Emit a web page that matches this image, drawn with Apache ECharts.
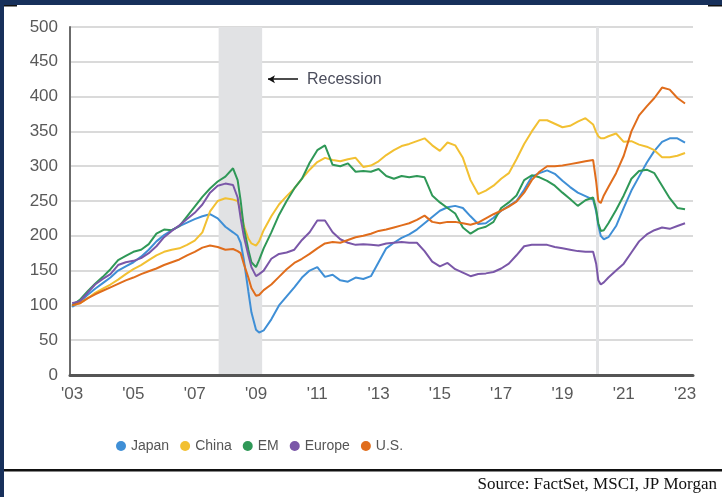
<!DOCTYPE html>
<html>
<head>
<meta charset="utf-8">
<script src="https://cdn.jsdelivr.net/npm/echarts@6/dist/echarts.min.js"></script>
<style>
html,body{margin:0;padding:0;background:#fff;}
#chart{width:722px;height:497px;}
</style>
</head>
<body>
<div id="chart"></div>
<script>
// Time points (decimal years)
const dates = [
  2003, 2003.25, 2003.5, 2003.75,
  2004, 2004.25, 2004.5, 2004.75,
  2005, 2005.25, 2005.5, 2005.75,
  2006, 2006.25, 2006.5, 2006.75,
  2007, 2007.25, 2007.5, 2007.75,
  2008, 2008.25, 2008.4, 2008.5, 2008.6, 2008.75, 2008.85,
  2009, 2009.1, 2009.25, 2009.5, 2009.75,
  2010, 2010.25, 2010.5, 2010.75,
  2011, 2011.25, 2011.5, 2011.75,
  2012, 2012.25, 2012.5, 2012.75,
  2013, 2013.25, 2013.5, 2013.75,
  2014, 2014.25, 2014.5, 2014.75,
  2015, 2015.25, 2015.5, 2015.75,
  2016, 2016.25, 2016.5, 2016.75,
  2017, 2017.25, 2017.5, 2017.75,
  2018, 2018.25, 2018.5, 2018.75,
  2019, 2019.25, 2019.5, 2019.75,
  2020, 2020.1, 2020.17, 2020.25, 2020.35, 2020.5, 2020.75,
  2021, 2021.25, 2021.5, 2021.75,
  2022, 2022.25, 2022.5, 2022.75,
  2023
];

const japan = [
  98, 105, 115, 124,
  132, 140, 150, 156,
  162, 170, 180, 192,
  201, 208, 214, 219,
  224, 228, 231, 225,
  213, 205, 200, 190, 166, 120, 90,
  65, 61, 64, 80, 100,
  113, 126, 140, 150,
  155, 141, 144, 136,
  134, 140, 138, 142,
  162, 182, 190, 197,
  202, 209, 218, 227,
  236, 241, 243, 240,
  228, 217, 218, 226,
  236, 243, 250, 266,
  285, 290, 294, 289,
  279, 270, 262, 257,
  252, 235, 215, 200, 195, 198, 214,
  240, 265, 285, 305,
  322, 335, 340, 340,
  334
];

const china = [
  100, 103, 110, 118,
  124, 130, 137, 145,
  152, 158, 165, 172,
  177, 180, 182, 187,
  193, 205, 235, 250,
  254, 252, 250, 236, 215, 196, 189,
  186, 192, 208, 228, 245,
  257, 268, 282, 295,
  306, 312, 309, 307,
  310, 312, 299, 301,
  307, 316, 323, 329,
  332, 336, 340, 330,
  322, 334, 330, 312,
  280, 260, 265, 272,
  282, 290, 310, 332,
  350, 366, 366, 361,
  356, 358, 364, 369,
  360, 349, 343, 340, 340, 343, 347,
  335, 336, 331, 328,
  323, 313, 313, 315,
  319
];

const em = [
  100, 108, 120, 131,
  141, 152, 165, 171,
  177, 180, 188, 203,
  209, 208, 214, 228,
  242, 256, 268, 278,
  285, 297, 280, 250, 212, 180, 162,
  155, 165, 182, 205, 230,
  250, 268, 282, 305,
  323, 330, 302, 300,
  304, 292, 293, 292,
  296, 286, 282, 286,
  284, 286, 284, 258,
  248, 240, 232, 212,
  203, 210, 213, 220,
  240, 248, 258, 280,
  287, 284, 279, 272,
  262, 253, 243, 251,
  255, 238, 218, 207, 208, 218, 237,
  258, 282, 293, 295,
  290, 272, 254, 240,
  238
];

const europe = [
  103, 106, 118, 130,
  138, 145, 158, 162,
  164, 168, 175, 185,
  198, 207, 215, 224,
  233, 245, 262, 272,
  275, 273, 255, 225, 200, 172, 155,
  142, 145, 150, 167, 174,
  176, 180, 194, 205,
  222, 222, 205, 195,
  190, 187, 188, 187,
  186, 189, 190, 191,
  190, 190, 178, 163,
  156, 161, 152, 147,
  142, 145, 146, 148,
  153, 160, 172, 185,
  187, 187, 187, 184,
  182, 180, 178, 177,
  177, 160, 136, 130, 133, 140, 150,
  160, 176, 192, 202,
  208, 212, 210, 214,
  218
];

const us = [
  100, 103, 110, 116,
  121, 126, 131, 136,
  140, 145, 149, 153,
  158, 162, 166, 172,
  177, 183, 186, 184,
  180, 181, 178, 175, 160, 140, 125,
  114, 115, 122, 130, 141,
  152, 161, 167, 174,
  182, 189, 191, 190,
  194, 198, 200, 203,
  207, 209, 212, 215,
  218, 223, 229, 220,
  218, 220, 220, 218,
  216, 219, 225, 231,
  236, 242, 249, 262,
  280, 292, 300, 300,
  301, 303, 305, 307,
  309, 278, 250, 247, 258, 270, 290,
  315, 350, 373, 386,
  398, 413, 410, 398,
  390
];

const seriesNames = ['Japan', 'China', 'EM', 'Europe', 'U.S.'];
const seriesValues = [japan, china, em, europe, us];
const seriesColors = ['#3f8fd6', '#f2c032', '#2f9857', '#7a57a8', '#e06d1c'];

const xTickYears = [2003, 2005, 2007, 2009, 2011, 2013, 2015, 2017, 2019, 2021, 2023];
const recession = [2007.78, 2009.2];
const covidMark = 2020.14;
const recessionLabel = 'Recession';
const arrowFrom = [2009.39, 425];
const arrowTo = [2010.37, 425];
const sourceText = 'Source: FactSet, MSCI, JP Morgan';

const chart = echarts.init(document.getElementById('chart'), null, {renderer: 'canvas'});

const lineSeries = seriesNames.map((name, i) => ({
  name: name,
  type: 'line',
  data: dates.map((d, k) => [d, seriesValues[i][k]]),
  showSymbol: false,
  symbol: 'circle',
  smooth: false,
  z: 3,
  lineStyle: {width: 2, color: seriesColors[i]},
  itemStyle: {color: seriesColors[i]},
  emphasis: {disabled: true}
}));

const markerSeries = {
  name: '_markers',
  type: 'line',
  data: [],
  z: 1,
  silent: true,
  markArea: {
    silent: true,
    z: 1,
    itemStyle: {color: '#e1e2e4'},
    data: [[{xAxis: recession[0]}, {xAxis: recession[1]}]]
  },
  markLine: {
    silent: true,
    z: 1,
    symbol: 'none',
    animation: false,
    label: {show: false},
    lineStyle: {color: '#e1e2e4', width: 3, type: 'solid'},
    data: [{xAxis: covidMark}]
  }
};

const arrowSeries = {
  name: '_arrow',
  type: 'line',
  data: [],
  z: 4,
  silent: true,
  markLine: {
    silent: true,
    animation: false,
    symbol: ['arrow', 'none'],
    symbolSize: [6, 7],
    lineStyle: {color: '#111', width: 1.5, type: 'solid'},
    label: {
      show: true,
      position: 'end',
      distance: 9,
      formatter: recessionLabel,
      fontFamily: '"Liberation Sans", Arial, sans-serif',
      fontSize: 16,
      color: '#4b4d5c'
    },
    data: [[{coord: arrowFrom}, {coord: arrowTo}]]
  }
};

const option = {
  animation: false,
  backgroundColor: '#ffffff',
  textStyle: {fontFamily: '"Liberation Sans", Arial, sans-serif'},
  grid: {left: 70, right: 29, top: 27, bottom: 122, containLabel: false},
  legend: {
    data: seriesNames,
    left: 111,
    top: 434,
    icon: 'circle',
    itemWidth: 10,
    itemHeight: 10,
    itemGap: 11,
    selectedMode: false,
    textStyle: {fontSize: 14, color: '#555555', fontFamily: '"Liberation Sans", Arial, sans-serif'}
  },
  xAxis: {
    type: 'value',
    min: 2002.93,
    max: 2023.26,
    z: 5,
    axisLine: {show: true, lineStyle: {color: '#555555', width: 3}},
    axisTick: {show: false},
    splitLine: {show: false},
    axisLabel: {
      customValues: xTickYears,
      formatter: v => "'" + String(Math.round(v)).slice(2),
      fontSize: 17,
      color: '#595959',
      margin: 11
    }
  },
  yAxis: {
    type: 'value',
    min: 0,
    max: 500,
    interval: 50,
    axisLine: {show: true, lineStyle: {color: '#6b6b6b', width: 2}},
    axisTick: {show: false},
    splitLine: {show: true, lineStyle: {color: '#dadada', width: 2}},
    axisLabel: {fontSize: 17, color: '#595959', margin: 12}
  },
  graphic: [
    {type: 'rect', shape: {x: 0, y: 0, width: 722, height: 5}, style: {fill: '#17305b'}, z: 100},
    {type: 'rect', shape: {x: 0, y: 0, width: 4, height: 497}, style: {fill: '#17305b'}, z: 100},
    {type: 'rect', shape: {x: 4, y: 5, width: 13, height: 1.5}, style: {fill: '#111111'}, z: 100},
    {type: 'rect', shape: {x: 708, y: 5, width: 14, height: 1.5}, style: {fill: '#111111'}, z: 100},
    {type: 'rect', shape: {x: 4, y: 469, width: 718, height: 2.5}, style: {fill: '#111111'}, z: 100},
    {type: 'text', right: 5, top: 476, z: 100,
      style: {text: sourceText, font: '17px "Liberation Serif", "Times New Roman", serif', fill: '#111111'}}
  ],
  series: [markerSeries].concat(lineSeries, [arrowSeries])
};

chart.setOption(option);
</script>
</body>
</html>
